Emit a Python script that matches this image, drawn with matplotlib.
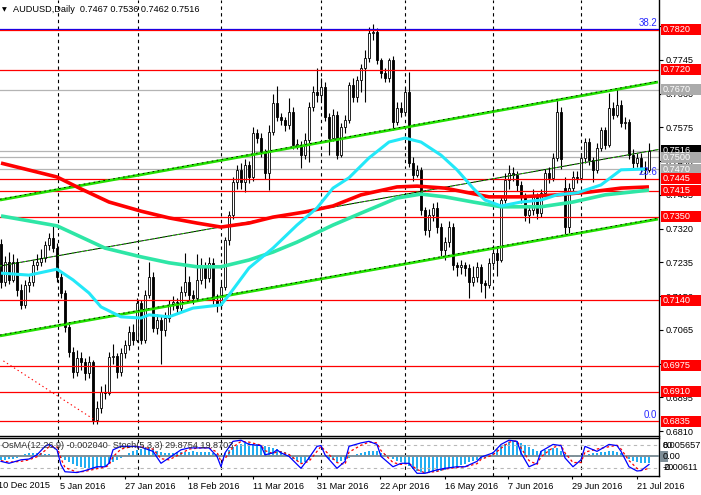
import matplotlib
matplotlib.use('Agg')
import matplotlib.pyplot as plt
import matplotlib.transforms as mtransforms
from matplotlib.patches import Rectangle
import numpy as np

plt.rcParams['font.family'] = ['Liberation Sans', 'DejaVu Sans']

# ---------------- data ----------------
opens = [.7281,.7186,.7236,.7191,.7236,.7166,.7128,.7178,.7186,.7229,
         .7236,.7246,.7279,.7296,.7271,.7198,.7158,.7072,.7010,.6959,
         .6994,.6984,.6957,.6984,.6838,.6869,.6909,.6906,.6997,.6999,
         .6959,.7007,.7027,.7060,.7040,.7133,.7040,.7153,.7198,.7070,
         .7090,.7065,.7095,.7128,.7135,.7120,.7161,.7186,.7153,.7145,
         .7191,.7224,.7196,.7234,.7140,.7128,.7173,.7291,.7354,.7437,
         .7468,.7437,.7480,.7450,.7561,.7548,.7513,.7460,.7563,.7636,
         .7601,.7593,.7581,.7614,.7531,.7531,.7505,.7543,.7626,.7664,
         .7656,.7677,.7601,.7548,.7606,.7505,.7576,.7593,.7682,.7651,
         .7694,.7724,.7750,.7812,.7815,.7744,.7712,.7699,.7744,.7588,
         .7624,.7614,.7664,.7485,.7455,.7468,.7367,.7317,.7354,.7372,
         .7324,.7266,.7286,.7324,.7229,.7224,.7229,.7221,.7186,.7198,
         .7224,.7183,.7178,.7234,.7259,.7241,.7392,.7442,.7460,.7455,
         .7430,.7400,.7354,.7367,.7400,.7359,.7410,.7460,.7448,.7498,
         .7614,.7422,.7324,.7422,.7450,.7448,.7498,.7538,.7493,.7468,
         .7523,.7568,.7531,.7624,.7606,.7631,.7586,.7588,.7505,.7485,
         .7498,.7473,.7467]
highs = [.7295,.7250,.7262,.7255,.7245,.7180,.7190,.7200,.7240,.7255,
         .7268,.7290,.7310,.7329,.7285,.7210,.7165,.7085,.7022,.7015,
         .7010,.6995,.7000,.6990,.6885,.6925,.6930,.7010,.7030,.7008,
         .7020,.7040,.7075,.7080,.7145,.7140,.7165,.7236,.7210,.7105,
         .7100,.7110,.7140,.7150,.7145,.7175,.7259,.7200,.7165,.7256,
         .7245,.7235,.7248,.7245,.7155,.7185,.7300,.7365,.7450,.7480,
         .7485,.7495,.7490,.7575,.7570,.7560,.7520,.7580,.7660,.7679,
         .7610,.7600,.7649,.7625,.7545,.7540,.7560,.7640,.7680,.7724,
         .7700,.7690,.7610,.7620,.7615,.7585,.7605,.7690,.7700,.7705,
         .7735,.7770,.7827,.7835,.7825,.7750,.7725,.7750,.7755,.7640,
         .7640,.7675,.7714,.7500,.7480,.7475,.7375,.7370,.7385,.7387,
         .7335,.7300,.7340,.7335,.7235,.7240,.7235,.7230,.7225,.7235,
         .7230,.7190,.7245,.7280,.7275,.7400,.7460,.7480,.7475,.7465,
         .7440,.7410,.7380,.7420,.7410,.7420,.7470,.7475,.7510,.7644,
         .7625,.7450,.7435,.7465,.7465,.7510,.7547,.7548,.7500,.7535,
         .7576,.7575,.7661,.7640,.7674,.7645,.7600,.7595,.7520,.7510,
         .7510,.7490,.7536]
lows = [.7170,.7175,.7180,.7185,.7150,.7117,.7120,.7160,.7175,.7215,
        .7225,.7235,.7265,.7262,.7185,.7145,.7060,.6998,.6945,.6950,
        .6965,.6940,.6945,.6827,.6828,.6855,.6890,.6900,.6980,.6945,
        .6950,.6995,.7015,.7028,.7035,.7030,.7032,.7145,.7060,.7055,
        .6980,.7050,.7085,.7115,.7105,.7110,.7150,.7140,.7130,.7140,
        .7180,.7170,.7185,.7130,.7110,.7120,.7165,.7280,.7345,.7420,
        .7420,.7412,.7435,.7440,.7535,.7500,.7445,.7417,.7555,.7590,
        .7580,.7565,.7570,.7520,.7520,.7473,.7495,.7488,.7615,.7640,
        .7645,.7590,.7505,.7540,.7495,.7500,.7560,.7585,.7640,.7640,
        .7665,.7640,.7740,.7795,.7735,.7700,.7690,.7690,.7568,.7580,
        .7600,.7605,.7475,.7440,.7450,.7355,.7305,.7300,.7340,.7310,
        .7250,.7240,.7275,.7215,.7200,.7205,.7200,.7145,.7175,.7185,
        .7160,.7145,.7170,.7225,.7200,.7235,.7385,.7420,.7440,.7415,
        .7385,.7340,.7335,.7355,.7345,.7350,.7400,.7435,.7440,.7490,
        .7470,.7305,.7310,.7410,.7435,.7440,.7485,.7480,.7437,.7460,
        .7515,.7520,.7525,.7595,.7600,.7575,.7570,.7495,.7470,.7475,
        .7460,.7445,.7462]
closes = [.7186,.7236,.7191,.7236,.7166,.7128,.7178,.7186,.7229,.7236,
          .7246,.7279,.7296,.7271,.7198,.7158,.7072,.7010,.6959,.6994,
          .6984,.6957,.6984,.6838,.6869,.6909,.6906,.6997,.6999,.6959,
          .7007,.7027,.7060,.7040,.7133,.7040,.7153,.7198,.7070,.7090,
          .7065,.7095,.7128,.7135,.7120,.7161,.7186,.7153,.7145,.7191,
          .7224,.7196,.7234,.7140,.7128,.7173,.7291,.7354,.7437,.7468,
          .7437,.7480,.7450,.7561,.7548,.7513,.7460,.7563,.7636,.7601,
          .7593,.7581,.7614,.7531,.7531,.7505,.7543,.7626,.7664,.7656,
          .7677,.7601,.7548,.7606,.7505,.7576,.7593,.7682,.7651,.7694,
          .7724,.7750,.7812,.7815,.7744,.7712,.7699,.7744,.7588,.7624,
          .7614,.7664,.7485,.7455,.7468,.7367,.7317,.7354,.7372,.7324,
          .7266,.7286,.7324,.7229,.7224,.7229,.7221,.7186,.7198,.7224,
          .7183,.7178,.7234,.7259,.7241,.7392,.7442,.7460,.7455,.7430,
          .7400,.7354,.7367,.7400,.7359,.7410,.7460,.7448,.7498,.7614,
          .7495,.7324,.7422,.7450,.7448,.7498,.7538,.7493,.7468,.7523,
          .7568,.7531,.7624,.7606,.7631,.7586,.7588,.7505,.7485,.7498,
          .7473,.7467,.7516]

red_ma_idx = [0,14,20,27,35,42,49,55,62,68,76,83,90,99,104,111,117,122,130,139,147,155,162]
red_ma = [.7485,.7450,.7420,.7387,.7364,.7347,.7334,.7324,.7334,.7349,.7362,.7377,
          .7405,.7425,.7427,.7422,.7410,.7400,.7400,.7405,.7412,.7422,.7425]
teal_ma_idx = [0,14,20,26,35,42,49,55,62,68,74,83,90,99,105,111,118,125,135,143,151,162]
teal_ma = [.7352,.7327,.7299,.7271,.7249,.7234,.7224,.7224,.7241,.7261,.7286,.7329,
           .7359,.7397,.7407,.7400,.7387,.7375,.7375,.7387,.7405,.7417]
cyan_ma_idx = [0,7,14,18,22,25,30,35,37,42,48,55,57,62,68,74,79,83,87,92,97,101,105,
               110,114,118,121,125,130,135,139,144,150,155,161]
cyan_ma = [.7208,.7203,.7218,.7191,.7158,.7123,.7098,.7095,.7103,.7098,.7120,.7128,
           .7153,.7221,.7271,.7329,.7372,.7422,.7448,.7498,.7538,.7548,.7538,.7505,
           .7468,.7422,.7392,.7377,.7387,.7392,.7405,.7410,.7430,.7468,.7470]

red_levels = [0.7820, 0.7720, 0.7445, 0.7415, 0.7350, 0.7140, 0.6975, 0.6910, 0.6835]
gray_levels = [0.7670, 0.7500, 0.7470]
bid_price = 0.7516

upper_chan = ([-0.25, 164.25], [0.7392, 0.7689])
mid_chan = ([-0.25, 164.25], [0.7226, 0.7519])
lower_chan = ([-0.25, 164.25], [0.7050, 0.7344])
fib_trend = ([0.6, 23.5], [0.6987, 0.6838])
fib_labels = ['38.2', '23.6', '0.0']
fib_prices = [0.7820, 0.7445, 0.6835]

price_ticks = [0.6810, 0.6895, 0.6980, 0.7065, 0.7150, 0.7235, 0.7320, 0.7405,
               0.7490, 0.7575, 0.7660, 0.7745, 0.7830]
month_lines = [14.25, 34.25, 55, 80, 101, 123, 145]
first_date_label = '10 Dec 2015'
date_labels = ['5 Jan 2016', '27 Jan 2016', '18 Feb 2016', '11 Mar 2016',
               '31 Mar 2016', '22 Apr 2016', '16 May 2016', '7 Jun 2016', '29 Jun 2016',
               '21 Jul 2016']
date_pos = [14.75, 31, 46.75, 63, 79, 94.75, 111, 126.75, 142.75, 159]

osma = [-0.00124,-0.00124,-0.00093,-0.00093,-0.00062,
        0.00031,0.00062,0.00093,0.00093,
        0.00093,0.00093,0.00062,0.00062,0.00031,
        0.0,
        -0.00062,-0.00124,-0.00186,-0.00248,-0.0031,-0.00341,-0.00372,-0.00403,-0.00403,
        -0.00372,-0.00341,-0.0031,-0.00248,
        -0.00186,-0.00124,-0.00062,
        0.00031,0.00093,0.00155,
        0.00186,0.00217,0.00248,0.00248,0.00217,
        0.00155,0.00124,0.00093,
        0.00093,0.00093,0.00124,0.00124,0.00124,0.00124,0.00155,0.00124,0.00124,0.00124,
        0.00124,0.00093,0.00062,
        0.00031,
        0.00093,0.00186,0.00279,0.00341,0.00372,
        0.00403,0.00403,0.00372,0.00372,0.00341,
        0.0031,0.00279,0.00248,0.00217,
        0.00155,0.00124,0.00062,
        -0.00093,-0.00155,-0.00217,-0.00186,-0.00124,
        -0.00031,0.00031,0.00031,
        -0.00031,-0.00093,-0.00124,-0.00186,
        -0.00155,-0.00124,-0.00062,
        0.00031,0.00062,0.00093,0.00124,0.00155,0.00155,0.00155,
        0.00093,0.00062,0.00031,
        -0.00093,-0.00155,-0.00186,-0.00217,
        -0.0031,-0.00403,-0.00465,-0.00496,-0.00527,
        -0.00527,-0.00496,-0.00496,-0.00465,
        -0.00434,-0.00403,-0.00372,-0.00341,
        -0.00279,-0.00248,-0.00186,-0.00155,
        -0.00124,-0.00093,-0.00062,
        -0.00031,
        0.00124,0.00217,0.0031,0.00372,0.00434,0.00465,0.00465,0.00403,
        0.00341,0.00279,0.00217,0.00155,
        0.00155,0.00186,0.00217,0.00248,0.00248,
        0.00155,0.00062,0.0,-0.00031,
        -0.00031,0.0,0.00031,
        0.00062,0.00093,0.00093,0.00124,0.00124,0.00155,0.00155,0.00124,0.00093,
        -0.00031,-0.00093,-0.00155,-0.00186,-0.00217,-0.00217,-0.00204]

stoch_idx = [0,2,5,7,9,11,12,14,15,16,19,21,24,26,27,28,30,33,35,38,40,42,45,47,50,
             52,54,55,56,58,60,62,65,66,68,69,70,72,75,77,79,80,81,84,86,87,90,92,94,95,
             98,100,102,104,106,109,111,114,116,119,120,123,125,127,129,130,132,134,135,
             138,140,141,143,145,146,149,152,154,155,157,159,160,162]
stoch_main = [38,33,42,44,55,77,82,68,29,11,9,14,24,24,33,68,77,77,75,64,33,47,68,73,73,
              73,51,24,60,90,93,82,79,55,60,68,60,51,20,47,77,79,55,20,38,77,86,90,82,51,
              24,33,33,7,7,16,20,24,24,38,49,60,82,93,90,60,24,33,64,82,79,47,24,42,77,64,
              82,79,64,24,13,14,30]
stoch_signal = [40,36,38,42,50,66,76,76,45,22,10,12,19,23,28,50,70,77,76,70,45,42,58,70,73,
                73,62,38,45,75,90,88,80,66,58,63,63,56,32,38,64,77,66,35,30,62,80,88,86,66,
                35,30,33,17,8,12,18,22,24,32,43,55,72,88,91,73,40,30,50,74,80,60,35,35,62,
                70,76,80,70,40,20,14,20]

# ---------------- figure ----------------
W, H = 701, 495
def fx(px):
    return px / W
def fy(py):
    return 1 - py / H

fig = plt.figure(figsize=(W / 100, H / 100), dpi=100)
fig.patch.set_facecolor('white')

ax = fig.add_axes([0, fy(435.5), fx(659), 435.5 / H])
axo = fig.add_axes([0, fy(476), fx(659), (476 - 437.5) / H])

XMIN, XMAX = -0.25, 164.5
ax.set_xlim(XMIN, XMAX)
ax.set_ylim(0.67993, 0.78955)
FS = 6.6

# month grid
for v in month_lines:
    ax.axvline(v, color='black', lw=0.8, ls=(0, (3, 3)), zorder=1)
    axo.axvline(v, color='black', lw=0.8, ls=(0, (3, 3)), zorder=1)

# horizontal levels
for lv in gray_levels + [bid_price]:
    ax.axhline(lv, color='#B4B4B4', lw=0.9, zorder=1)
ax.axhline(fib_prices[0] + 0.00028, color='#0000FF', lw=0.9, zorder=4)
for lv in red_levels:
    ax.axhline(lv, color='#FF0000', lw=0.9, zorder=4)

# fibo labels
for lab, p in zip(fib_labels, fib_prices):
    ax.text(164.0, p + 0.0004, lab, ha='right', va='bottom', color='#2828FF',
            fontsize=7, zorder=6)
ax.plot(fib_trend[0], fib_trend[1], color='#FF0000', lw=0.8, ls=(0, (1.2, 2.6)), zorder=4)

# candles
x = np.arange(len(closes))
o = np.array(opens); c = np.array(closes)
hi = np.array(highs); lo = np.array(lows)
ax.vlines(x, lo, hi, color='black', lw=0.8, zorder=2)
bull = c >= o
bottom = np.minimum(o, c)
height = np.maximum(np.abs(c - o), 0.00012)
ax.bar(x[bull], height[bull], bottom=bottom[bull], width=0.72, facecolor='white',
       edgecolor='black', linewidth=0.6, zorder=2.5)
ax.bar(x[~bull], height[~bull], bottom=bottom[~bull], width=0.72, facecolor='black',
       edgecolor='black', linewidth=0.6, zorder=2.5)

# channel lines
for ln in (upper_chan, lower_chan):
    ax.plot(ln[0], ln[1], color='#22E000', lw=2.0, zorder=5, solid_capstyle='butt')
    ax.plot(ln[0], np.array(ln[1]) + 0.00022, color='black', lw=0.6,
            ls=(0, (2, 4)), zorder=5)
ax.plot(mid_chan[0], mid_chan[1], color='black', lw=0.7, zorder=5)
ax.plot(mid_chan[0], mid_chan[1], color='#22E000', lw=0.7, ls=(0, (2, 3)), zorder=5)

# moving averages
ax.plot(red_ma_idx, red_ma, color='#FF0000', lw=2.6, zorder=6, solid_capstyle='butt')
ax.plot(teal_ma_idx, teal_ma, color='#2EE6A6', lw=2.6, zorder=6, solid_capstyle='butt')
ax.plot(cyan_ma_idx, cyan_ma, color='#22E8F8', lw=2.2, zorder=6, solid_capstyle='butt')

# axes styling
for s in ('left', 'top'):
    ax.spines[s].set_visible(False)
ax.spines['right'].set_linewidth(1.0)
ax.spines['bottom'].set_linewidth(1.0)
ax.set_xticks([])
ax.yaxis.tick_right()
ax.set_yticks(price_ticks)
ax.set_yticklabels(['%.4f' % t for t in price_ticks], fontsize=FS)
ax.tick_params(axis='y', direction='out', length=3, width=0.8, pad=1.5)

# right-side price labels
trans = mtransforms.blended_transform_factory(fig.transFigure, ax.transData)
box_h = 11 * (0.78955 - 0.67993) / 435.5
def price_box(p, fc):
    ax.add_patch(Rectangle((fx(660.5), p - box_h / 2), fx(701) - fx(660.5), box_h,
                           transform=trans, facecolor=fc, edgecolor='none',
                           clip_on=False, zorder=10))
    ax.text(fx(663), p, '%.4f' % p, transform=trans, va='center', ha='left',
            color='white', fontsize=FS, zorder=11, clip_on=False)
price_box(bid_price, 'black')
for lv in gray_levels:
    price_box(lv, '#ABABAB')
for lv in red_levels:
    price_box(lv, '#FF0000')

# ---------------- oscillator panel ----------------
axo.set_xlim(XMIN, XMAX)
axo.set_ylim(-0.00611, 0.005657)
axo.bar(x, osma, width=0.72, color='#22AEF2', zorder=2)
axo.axhline(0, color='#7F8F98', lw=1.4, zorder=3)
axo.spines['left'].set_visible(False)
for s in ('top', 'bottom', 'right'):
    axo.spines[s].set_linewidth(1.0)
axo.set_yticks([])
axo.set_xticks(date_pos)
axo.set_xticklabels(date_labels, fontsize=FS, ha='left')
axo.tick_params(axis='x', direction='out', length=2.5, width=0.8, pad=1.5)

axs = axo.twinx()
axs.set_xlim(XMIN, XMAX)
axs.set_ylim(0, 100)
for s in axs.spines.values():
    s.set_visible(False)
axs.set_yticks([])
axs.axhline(80, color='#B8B8B8', lw=0.8, ls=(0, (3, 3)), zorder=2)
axs.axhline(20, color='#B8B8B8', lw=0.8, ls=(0, (3, 3)), zorder=2)
axs.plot(stoch_idx, stoch_signal, color='#FF0000', lw=0.9, ls=(0, (2, 2)), zorder=4)
axs.plot(stoch_idx, stoch_main, color='#0000FF', lw=0.9, zorder=5)

# first (clipped) date label at the left edge
fig.text(fx(-2.5), fy(486), first_date_label, fontsize=FS, va='center', ha='left')

# oscillator scale texts
fig.text(fx(663), fy(445), '0.005657', fontsize=FS, va='center', ha='left')
fig.text(fx(663), fy(445), '80', fontsize=FS, va='center', ha='left')
fig.patches.append(Rectangle((fx(660), fy(462)), fx(8), 11 / H, transform=fig.transFigure,
                             facecolor='#7F8F98', edgecolor='none'))
fig.text(fx(663), fy(456.5), '0.00', fontsize=FS, va='center', ha='left')
fig.text(fx(663), fy(468), '-0.00611', fontsize=FS, va='center', ha='left')
fig.text(fx(663), fy(468), '20', fontsize=FS, va='center', ha='left')

# titles
fig.text(fx(2), fy(9.5), '\u25BC', fontsize=4.5, va='center', ha='left',
         family=['DejaVu Sans'])
fig.text(fx(13), fy(9.5), 'AUDUSD,Daily  0.7467 0.7536 0.7462 0.7516', fontsize=FS,
         va='center', ha='left', color='black')
fig.text(fx(2), fy(446), 'OsMA(12,26,9) -0.002040  Stoch(5,3,3) 29.8754 19.8703',
         fontsize=FS, va='center', ha='left', color='#303030')

fig.savefig('out.png', dpi=100, facecolor='white')
